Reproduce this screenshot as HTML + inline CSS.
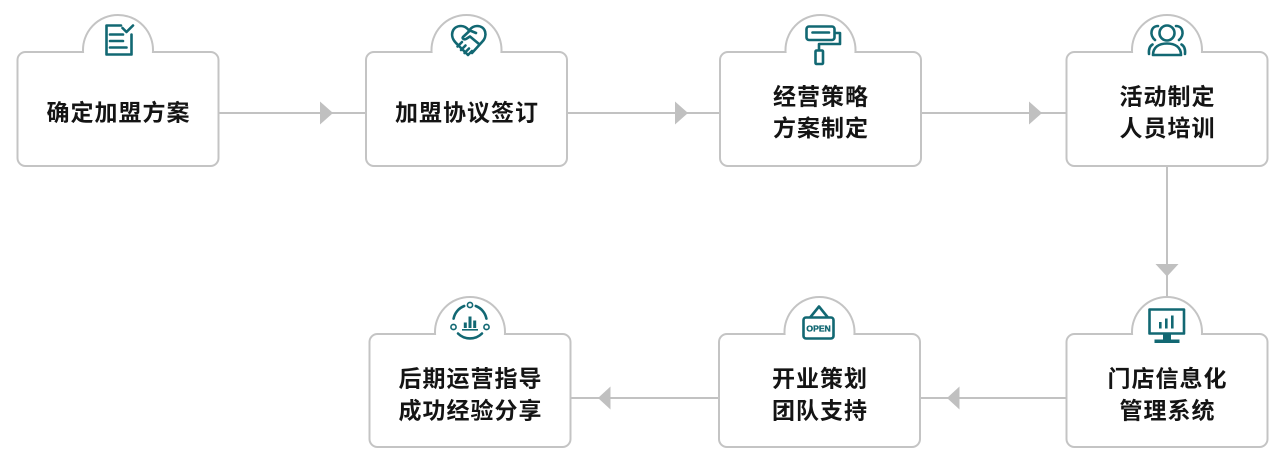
<!DOCTYPE html>
<html><head><meta charset="utf-8"><style>
html,body{margin:0;padding:0;background:#fff;}
svg{display:block;}
.b{fill:#fff;stroke:#c4c4c4;stroke-width:2;}
.l{stroke:#c2c2c2;stroke-width:2;fill:none;}
.a{fill:#c0c0c0;}
.i{fill:none;stroke:#126873;stroke-width:2.6;stroke-linecap:round;stroke-linejoin:round;}
.t{font-family:"Liberation Sans","Noto Sans CJK SC",sans-serif;font-size:23px;font-weight:bold;fill:#141414;text-anchor:middle;letter-spacing:1px;}
</style></head><body>
<svg width="1285" height="469" viewBox="0 0 1285 469" xmlns="http://www.w3.org/2000/svg">
<!-- connectors -->
<line class="l" x1="218.5" y1="113" x2="366" y2="113"/>
<polygon class="a" points="320,101.5 333,113 320,124.5"/>
<line class="l" x1="567" y1="113" x2="720" y2="113"/>
<polygon class="a" points="675,101.5 688,113 675,124.5"/>
<line class="l" x1="921" y1="113" x2="1066.5" y2="113"/>
<polygon class="a" points="1029,101.5 1042,113 1029,124.5"/>
<line class="l" x1="1167" y1="166" x2="1167" y2="298"/>
<polygon class="a" points="1155.5,264 1178.5,264 1167,276.5"/>
<line class="l" x1="570.5" y1="398" x2="719" y2="398"/>
<polygon class="a" points="610.5,386.5 598,398 610.5,409.5"/>
<line class="l" x1="920" y1="398" x2="1066.5" y2="398"/>
<polygon class="a" points="959.5,386.5 947,398 959.5,409.5"/>

<!-- boxes -->
<path class="b" d="M25.5,52 H83.06 A35 35 0 1 1 152.94,52 H210.5 A8 8 0 0 1 218.5,60 V158 A8 8 0 0 1 210.5,166 H25.5 A8 8 0 0 1 17.5,158 V60 A8 8 0 0 1 25.5,52 Z"/>
<path class="b" d="M374,52 H431.56 A35 35 0 1 1 501.44,52 H559 A8 8 0 0 1 567,60 V158 A8 8 0 0 1 559,166 H374 A8 8 0 0 1 366,158 V60 A8 8 0 0 1 374,52 Z"/>
<path class="b" d="M728,52 H785.56 A35 35 0 1 1 855.44,52 H913 A8 8 0 0 1 921,60 V158 A8 8 0 0 1 913,166 H728 A8 8 0 0 1 720,158 V60 A8 8 0 0 1 728,52 Z"/>
<path class="b" d="M1074.5,52 H1132.06 A35 35 0 1 1 1201.94,52 H1259.5 A8 8 0 0 1 1267.5,60 V158 A8 8 0 0 1 1259.5,166 H1074.5 A8 8 0 0 1 1066.5,158 V60 A8 8 0 0 1 1074.5,52 Z"/>
<path class="b" d="M377.5,334 H435.06 A35 35 0 1 1 504.94,334 H562.5 A8 8 0 0 1 570.5,342 V439 A8 8 0 0 1 562.5,447 H377.5 A8 8 0 0 1 369.5,439 V342 A8 8 0 0 1 377.5,334 Z"/>
<path class="b" d="M727,334 H784.56 A35 35 0 1 1 854.44,334 H912 A8 8 0 0 1 920,342 V439 A8 8 0 0 1 912,447 H727 A8 8 0 0 1 719,439 V342 A8 8 0 0 1 727,334 Z"/>
<path class="b" d="M1074.5,334 H1132.06 A35 35 0 1 1 1201.94,334 H1259.5 A8 8 0 0 1 1267.5,342 V439 A8 8 0 0 1 1259.5,447 H1074.5 A8 8 0 0 1 1066.5,439 V342 A8 8 0 0 1 1074.5,334 Z"/>

<!-- icon 1: document check -->
<path class="i" d="M121,25.5 H106.5 V54.5 H131.5 V34.5" stroke-linecap="butt" stroke-linejoin="miter"/>
<path class="i" d="M122.5,28 L126.5,32 L133,25.5"/>
<path class="i" d="M110,34.5 H123 M110,41 H123 M110,47.5 H126.5" stroke-linecap="butt"/>

<!-- icon 2: handshake heart -->
<path class="i" d="M458,45 L456,43 C449,36 452,26 461,26 C465,26 467.5,28.5 469,30.5 C470.5,28.5 473,26 477,26 C486,26 488,36 482,42 L472,53"/>
<path class="i" d="M476,33 L470,30.5 L463,37 C462,38.5 464,40 466,39 L470,36.5 L479,44"/>
<path class="i" d="M456,43 L468,55 M457.5,46.5 L462,42 M461,50 L465.5,45.5 M464.5,53 L469,48.5 M468,55 L472,51"/>

<!-- icon 3: paint roller -->
<rect class="i" x="806.5" y="26.5" width="28" height="13.5" rx="2.5"/>
<path class="i" d="M812.5,32.5 H829" stroke-linecap="butt"/>
<path class="i" d="M835,33 H840 V44 H819 V50" stroke-linecap="butt"/>
<rect class="i" x="815.5" y="50.5" width="7.5" height="13.5" rx="1"/>

<!-- icon 4: people -->
<circle class="i" cx="1167" cy="33" r="7.5"/>
<path class="i" d="M1153,55 C1153,47 1159,43.5 1167,43.5 C1175,43.5 1181,47 1181,55 Z"/>
<path class="i" d="M1158,26 C1151,26 1149,35 1155,40"/>
<path class="i" d="M1149,54 C1148.5,49 1150,46 1152.5,44.5"/>
<path class="i" d="M1176,26 C1183,26 1185,35 1179,40"/>
<path class="i" d="M1185,54 C1185.5,49 1184,46 1181.5,44.5"/>

<!-- icon 5: monitor -->
<rect class="i" x="1149.5" y="309.5" width="34.5" height="24" stroke-linejoin="miter"/>
<rect x="1163" y="334" width="8" height="6" fill="#126873"/>
<rect x="1154.5" y="339.5" width="25" height="3.5" fill="#126873"/>
<rect x="1159" y="322" width="2.6" height="6.5" fill="#126873"/>
<rect x="1165" y="318.5" width="2.6" height="10" fill="#126873"/>
<rect x="1171" y="315.5" width="2.6" height="13" fill="#126873"/>

<!-- icon 6: OPEN sign -->
<path class="i" d="M810.5,317 L819,306.5 L827.5,317"/>
<rect class="i" x="803.5" y="317.5" width="30" height="21" rx="2.5"/>
<text x="818.6" y="331.4" font-family="Liberation Sans, sans-serif" font-size="8.6" font-weight="bold" fill="#126873" stroke="#126873" stroke-width="0.35" text-anchor="middle">OPEN</text>

<!-- icon 7: growth ring -->
<path class="i" stroke-width="2.2" d="M475.8,306 A17 17 0 0 1 486.4,318.6"/>
<path class="i" stroke-width="2.2" d="M482,333.5 A17 17 0 0 1 458,333.5"/>
<path class="i" stroke-width="2.2" d="M453.6,318.6 A17 17 0 0 1 464.2,306"/>
<circle cx="470" cy="305" r="2.6" fill="#fff" stroke="#126873" stroke-width="1.6"/>
<circle cx="486.5" cy="327" r="2.6" fill="#fff" stroke="#126873" stroke-width="1.6"/>
<circle cx="453.5" cy="327" r="2.6" fill="#fff" stroke="#126873" stroke-width="1.6"/>
<rect x="463.8" y="322.5" width="3" height="5.5" fill="#126873"/>
<rect x="468.5" y="316.5" width="3" height="11.5" fill="#126873"/>
<rect x="473.2" y="320.5" width="3" height="7.5" fill="#126873"/>
<line x1="462" y1="329.8" x2="478" y2="329.8" stroke="#126873" stroke-width="1.6"/>

<!-- labels -->
<text class="t" x="118.5" y="120.4">确定加盟方案</text>
<text class="t" x="467" y="120.4">加盟协议签订</text>
<text class="t" x="821" y="104.5">经营策略</text>
<text class="t" x="821" y="136.2">方案制定</text>
<text class="t" x="1167.5" y="104.5">活动制定</text>
<text class="t" x="1167.5" y="136.2">人员培训</text>
<text class="t" x="1167.5" y="386.5">门店信息化</text>
<text class="t" x="1167.5" y="418.4">管理系统</text>
<text class="t" x="820" y="386.5">开业策划</text>
<text class="t" x="820" y="418.4">团队支持</text>
<text class="t" x="470.5" y="386.5">后期运营指导</text>
<text class="t" x="470.5" y="418.4">成功经验分享</text>
</svg>
</body></html>
